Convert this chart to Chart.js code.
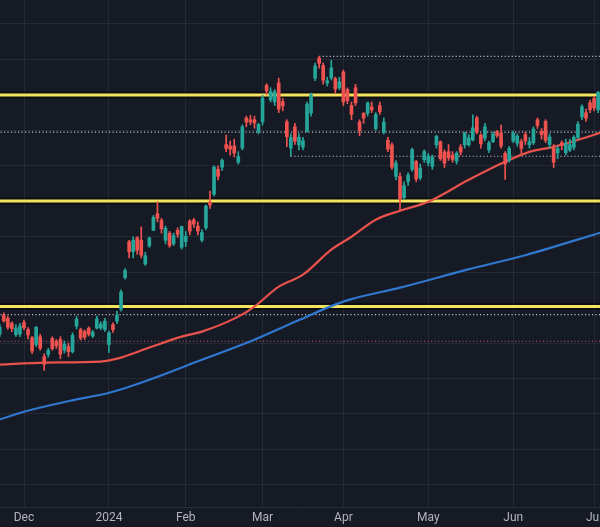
<!DOCTYPE html>
<html>
<head>
<meta charset="utf-8">
<script src="https://cdn.jsdelivr.net/npm/chart.js@4.4.1/dist/chart.umd.min.js"></script>
<style>
html,body{margin:0;padding:0;background:#161a25;overflow:hidden}
#wrap{width:600px;height:527px;position:relative}
</style>
</head>
<body>
<div id="wrap"><canvas id="c"></canvas></div>
<script>
// ---- data (Nikkei 225 daily) ----
const dates = [
 '2023-11-22','2023-11-24','2023-11-27','2023-11-28','2023-11-29','2023-11-30',
 '2023-12-01','2023-12-04','2023-12-05','2023-12-06','2023-12-07','2023-12-08','2023-12-11','2023-12-12','2023-12-13','2023-12-14','2023-12-15','2023-12-18','2023-12-19','2023-12-20','2023-12-21','2023-12-22','2023-12-25','2023-12-26','2023-12-27','2023-12-28','2023-12-29',
 '2024-01-04','2024-01-05','2024-01-09','2024-01-10','2024-01-11','2024-01-12','2024-01-15','2024-01-16','2024-01-17','2024-01-18','2024-01-19','2024-01-22','2024-01-23','2024-01-24','2024-01-25','2024-01-26','2024-01-29','2024-01-30','2024-01-31',
 '2024-02-01','2024-02-02','2024-02-05','2024-02-06','2024-02-07','2024-02-08','2024-02-09','2024-02-13','2024-02-14','2024-02-15','2024-02-16','2024-02-19','2024-02-20','2024-02-21','2024-02-22','2024-02-26','2024-02-27','2024-02-28','2024-02-29',
 '2024-03-01','2024-03-04','2024-03-05','2024-03-06','2024-03-07','2024-03-08','2024-03-11','2024-03-12','2024-03-13','2024-03-14','2024-03-15','2024-03-18','2024-03-19','2024-03-21','2024-03-22','2024-03-25','2024-03-26','2024-03-27','2024-03-28','2024-03-29',
 '2024-04-01','2024-04-02','2024-04-03','2024-04-04','2024-04-05','2024-04-08','2024-04-09','2024-04-10','2024-04-11','2024-04-12','2024-04-15','2024-04-16','2024-04-17','2024-04-18','2024-04-19','2024-04-22','2024-04-23','2024-04-24','2024-04-25','2024-04-26','2024-04-30',
 '2024-05-01','2024-05-02','2024-05-07','2024-05-08','2024-05-09','2024-05-10','2024-05-13','2024-05-14','2024-05-15','2024-05-16','2024-05-17','2024-05-20','2024-05-21','2024-05-22','2024-05-23','2024-05-24','2024-05-27','2024-05-28','2024-05-29','2024-05-30','2024-05-31',
 '2024-06-03','2024-06-04','2024-06-05','2024-06-06','2024-06-07','2024-06-10','2024-06-11','2024-06-12','2024-06-13','2024-06-14','2024-06-17','2024-06-18','2024-06-19','2024-06-20','2024-06-21','2024-06-24','2024-06-25','2024-06-26','2024-06-27','2024-06-28',
 '2024-07-01','2024-07-02'
];
const open = [
 33250,33780,33700,33560,33240,33250,
 33580,33380,33150,32960,33180,32620,32680,33130,33050,33100,32800,32900,32760,33480,33380,33330,33420,33200,33420,33430,33380,
 32960,33520,33620,33950,34850,35860,35580,35970,35900,35230,35740,36180,36650,36460,35900,36100,35800,36180,35700,
 35860,36440,36470,36300,35900,36250,36980,37200,37900,37960,38600,38560,38560,38100,38500,39350,39300,39300,38960,
 39240,40270,39860,39800,40340,39810,39240,38500,39100,38590,38530,38970,39490,40470,41040,40830,40330,40480,40460,40200,
 40646,40150,39700,40200,39240,39480,39480,39660,39050,39700,38950,38720,38590,37700,37700,37100,37560,37900,38120,37660,38170,
 38080,37980,38590,38680,38390,38400,38300,38130,38530,38590,38590,38730,39350,38870,38780,38450,38680,38960,38930,38350,38150,
 38700,38640,38680,38880,38590,38650,39300,38970,39250,38600,38500,38360,38650,38370,38440,38520,38800,39380,39500,39780,
 39900,39580
];
const high = [
 33520,33853,33760,33600,33520,33560,
 33650,33440,33190,33470,33250,32700,32850,33180,33100,33180,33060,33000,33290,33750,33420,33370,33460,33360,33760,33600,33700,
 33340,33570,33900,34500,35100,35900,36000,36000,36280,35560,35990,36600,36984,36520,36300,36150,36100,36250,36300,
 36150,36480,36520,36420,36200,36900,37287,38000,38000,38200,38865,38700,38750,38400,39156,39400,39426,39400,39200,
 39990,40314,40200,40150,40472,39900,39300,38900,39200,38900,38800,39800,40050,40900,41087,40900,40500,40980,40500,40500,
 40697,40200,39800,40300,39300,39500,39800,39800,39500,39800,39350,38800,38650,38150,37800,37550,37800,38500,38150,38050,38450,
 38350,38300,38863,38700,38450,38600,38400,38400,38600,38950,38880,39437,39400,38900,39200,38700,38950,39000,39150,38400,38550,
 38980,38900,38750,38950,38800,39100,39350,39050,39300,38900,38600,38550,38700,38750,38750,38850,39250,39720,39600,39850,
 39950,40100
];
const low = [
 33180,33590,33390,33320,33190,33180,
 33380,33120,32700,32900,32800,32230,32600,32800,32850,32560,32720,32620,32720,33400,33090,33100,33200,33150,33400,33380,33330,
 32730,33300,33550,33900,34800,35400,35400,35500,35400,35190,35700,36170,36420,36100,35800,35700,35750,35980,35650,
 35720,36050,36260,36050,35850,36200,36800,37150,37600,37870,38400,38300,38250,38050,38450,39100,39160,39060,38900,
 39150,40000,39800,39700,39500,39550,38540,38271,38600,38450,38450,38950,39400,40400,40750,40300,40250,40420,40050,40150,
 39700,39750,39300,39700,38850,39200,39400,39500,39000,39450,38900,38400,37900,37600,36733,37050,37450,37850,37550,37600,38100,
 38000,37900,38500,38150,37950,38150,38100,38050,38300,38500,38550,38700,38900,38500,38700,38367,38650,38800,38500,37617,38100,
 38650,38550,38350,38600,38500,38600,39050,38750,38650,38500,37950,38200,38450,38300,38400,38450,38750,39300,39250,39500,
 39550,39500
];
const close = [
 33452,33625,33447,33408,33421,33486,
 33431,33231,32775,33445,32858,32400,32791,32843,32926,32686,32970,32758,33219,33675,33140,33169,33254,33305,33681,33540,33620,
 33288,33377,33790,34441,35049,35577,35901,35619,35477,35466,35963,36546,36517,36226,36236,35751,36026,36065,36286,
 36011,36158,36354,36160,36119,36863,36897,37963,37703,38157,38487,38470,38363,38262,39098,39233,39239,39208,39166,
 39910,40109,40097,40090,39598,39688,38820,38797,38695,38807,38707,39740,40003,40815,40888,40414,40398,40762,40168,40369,
 39803,39838,39451,39773,38992,39347,39773,39581,39442,39523,39232,38471,37961,38079,37068,37438,37740,38460,37628,37934,38405,
 38274,38236,38835,38202,38073,38229,38179,38356,38385,38920,38787,39069,38946,38617,39103,38646,38900,38855,38556,38054,38487,
 38923,38837,38490,38703,38683,39038,39134,38876,38720,38814,38102,38482,38570,38633,38596,38804,39173,39667,39341,39583,
 39631,40074
];
// moving averages read at sample bars (bar index, value)
const ma100Bar = [0,11,25,30,37,45,50,59,63,69,75,82,87,93,99,106,116,125,131,137,143,148.5];
const ma100Val = [32394,32450,32479,32591,32873,33183,33324,33746,34028,34591,34929,35634,35999,36479,36732,36986,37606,38113,38394,38535,38732,38930];
const ma200Bar = [0,6.2,16.6,27.3,32.2,37.2,49.5,61.9,74.3,81.7,86.6,99,115.6,130.4,148.5];
const ma200Val = [30845,31070,31352,31605,31774,31972,32507,33042,33662,34028,34225,34563,35070,35493,36113];
// horizontal levels
const yellowLevels = [40000, 37010, 34030];
const whiteDotLevels = [41087, 38950, 38271, 33803];
const whiteDotFrom = ['2024-03-22', null, '2024-03-12', null];
const redDotLevels = [33050];
// x-axis tick labels
const tickMonths = ['2023-12','2024-01','2024-02','2024-03','2024-04','2024-05','2024-06','2024-07'];
const tickLabels = ['Dec','2024','Feb','Mar','Apr','May','Jun','Jul'];

// ---- build ----
const UP = '#26a69a', DN = '#ef5350';
const colors = close.map((c,i)=> c >= open[i] ? UP : DN);
const wickData = dates.map((d,i)=>({x:i, y:[low[i], high[i]]}));
const bodyData = dates.map((d,i)=>({x:i, y:[Math.min(open[i],close[i]), Math.max(open[i],close[i])]}));
const tickIdx = tickMonths.map(m => dates.findIndex(d => d.startsWith(m)));
const dec1 = dates.indexOf('2023-12-01');
const X_MIN = dec1 - 5.936, X_MAX = X_MIN + 148.4;
const X_END = dates.length + 2;

function levelLine(v, fromIdx, color, width, dash, order){
  return {type:'line', data:[{x:fromIdx, y:v},{x:X_END, y:v}], borderColor:color, borderWidth:width,
    borderDash:dash, pointRadius:0, order:order, tension:0};
}
const datasets = [];
datasets.push({type:'bar', data: bodyData, backgroundColor: colors, barThickness: 3, grouped:false, borderWidth:0, minBarLength:1, order:1});
datasets.push({type:'bar', data: wickData, backgroundColor: colors, barThickness: 1, grouped:false, borderWidth:0, order:2});
datasets.push({type:'line', data: ma100Bar.map((b,i)=>({x:b, y:ma100Val[i]})), borderColor:'#e8524c', borderWidth:2.2, pointRadius:0, cubicInterpolationMode:'monotone', order:3});
datasets.push({type:'line', data: ma200Bar.map((b,i)=>({x:b, y:ma200Val[i]})), borderColor:'#2f77cf', borderWidth:2.2, pointRadius:0, cubicInterpolationMode:'monotone', order:3});
whiteDotLevels.forEach((v,i)=>{
  const f = whiteDotFrom[i] ? dates.indexOf(whiteDotFrom[i]) : -5;
  datasets.push(levelLine(v, f, '#c3c6cd', 1.1, [1.1,2.4], 6));
});
redDotLevels.forEach(v=> datasets.push(levelLine(v, -5, '#b05a68', 1.1, [1.1,2.4], 6)));
yellowLevels.forEach(v=>{
  datasets.push(levelLine(v, -5, '#f3e35e', 3, [], 7));
  datasets.push(levelLine(v, -5, 'rgba(0,0,0,0.45)', 7, [], 8));
});

const bgPlugin = {id:'bg', beforeDraw(c){const x=c.ctx; x.save(); x.fillStyle='#161a25'; x.fillRect(0,0,c.width,c.height); x.restore();}};

new Chart(document.getElementById('c'), {
  type:'bar',
  data:{datasets},
  plugins:[bgPlugin],
  options:{
    responsive:true, maintainAspectRatio:false, animation:false,
    layout:{padding:0},
    plugins:{legend:{display:false}, tooltip:{enabled:false}},
    scales:{
      x:{type:'linear', min:X_MIN, max:X_MAX, offset:false,
        grid:{offset:false, color:'rgba(255,255,255,0.065)', drawTicks:false},
        border:{display:true, color:'#2a2e39'},
        afterBuildTicks: s => { s.ticks = tickIdx.map(v=>({value:v})); },
        afterFit: s => { s.paddingLeft = 0; s.paddingRight = 0; s.height = 20; },
        ticks:{autoSkip:false, maxRotation:0, padding:4, color:'#b2b5be',
          font:{family:'Roboto, "Open Sans", sans-serif', size:12},
          callback:(v)=>{ const k = tickIdx.indexOf(v); return k>=0 ? tickLabels[k] : ''; }}
      },
      y:{type:'linear', min:28377, max:42676, beginAtZero:false,
        grid:{color:'rgba(255,255,255,0.065)', drawTicks:false},
        border:{display:false},
        ticks:{display:false},
        afterBuildTicks: s => { const t=[]; for(let v=29000; v<=42000; v+=1000) t.push({value:v}); s.ticks=t; },
        afterFit: s => { s.width = 0; }
      }
    }
  }
});
</script>
</body>
</html>
